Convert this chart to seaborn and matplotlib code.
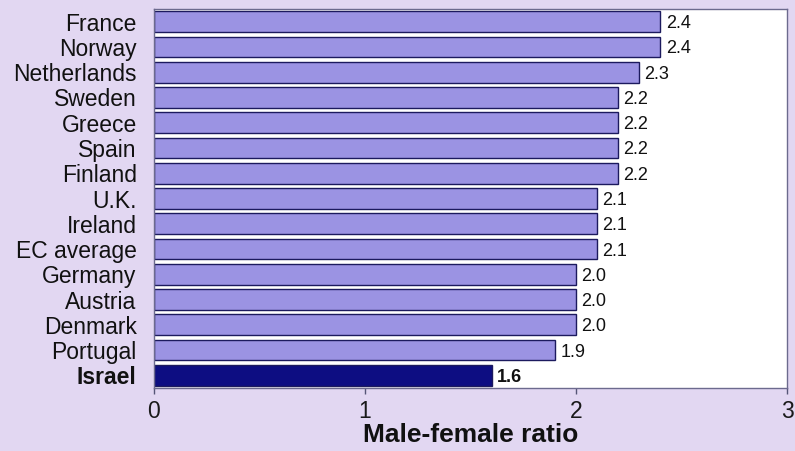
import matplotlib
matplotlib.use("Agg")
import matplotlib.pyplot as plt
import seaborn as sns
import pandas as pd

countries = ["France", "Norway", "Netherlands", "Sweden", "Greece", "Spain",
             "Finland", "U.K.", "Ireland", "EC average", "Germany", "Austria",
             "Denmark", "Portugal", "Israel"]
ratios = [2.4, 2.4, 2.3, 2.2, 2.2, 2.2, 2.2, 2.1, 2.1, 2.1, 2.0, 2.0, 2.0, 1.9, 1.6]
x_ticks = [0, 1, 2, 3]

sns.set_theme(style="white")
plt.rcParams["font.family"] = ["Liberation Sans", "DejaVu Sans"]

bg = "#e2d7f2"
bar_color = "#9b93e3"
israel_color = "#0d0d82"
edge = "#1c1a5e"

df = pd.DataFrame({"country": countries, "ratio": ratios})
palette = {c: (israel_color if c == "Israel" else bar_color) for c in countries}

fig = plt.figure(figsize=(7.95, 4.51), dpi=100, facecolor=bg)
ax = fig.add_axes([0.1937, 0.1397, 0.7963, 0.8403])
ax.set_facecolor("white")

sns.barplot(data=df, x="ratio", y="country", hue="country", palette=palette,
            legend=False, width=0.82, edgecolor=edge, linewidth=1.0,
            saturation=1, ax=ax)

for i, (c, v) in enumerate(zip(countries, ratios)):
    ax.text(v + 0.025, i + 0.08, f"{v:.1f}", va="center", ha="left",
            fontsize=13, color="#111111",
            fontweight="bold" if c == "Israel" else "normal")

ax.set_xlim(0, 3)
ax.set_xticks(x_ticks)
ax.set_xticklabels([str(t) for t in x_ticks], fontsize=16.5, color="#1a1a1a")
ax.tick_params(axis="x", direction="out", length=4, width=1, color="#555577",
               pad=5, bottom=True)
ax.tick_params(axis="y", length=0, pad=12.5)
for lbl in ax.get_yticklabels():
    lbl.set_fontsize(16.5)
    lbl.set_color("#111111")
    if lbl.get_text() == "Israel":
        lbl.set_fontweight("bold")

ax.set_ylabel("")
ax.set_xlabel("Male-female ratio", fontsize=19, fontweight="bold",
              color="#111111", labelpad=0)

for s in ax.spines.values():
    s.set_visible(True)
    s.set_color("#6c6a8e")
    s.set_linewidth(1.0)

fig.savefig("out.png", dpi=100, facecolor=bg)
